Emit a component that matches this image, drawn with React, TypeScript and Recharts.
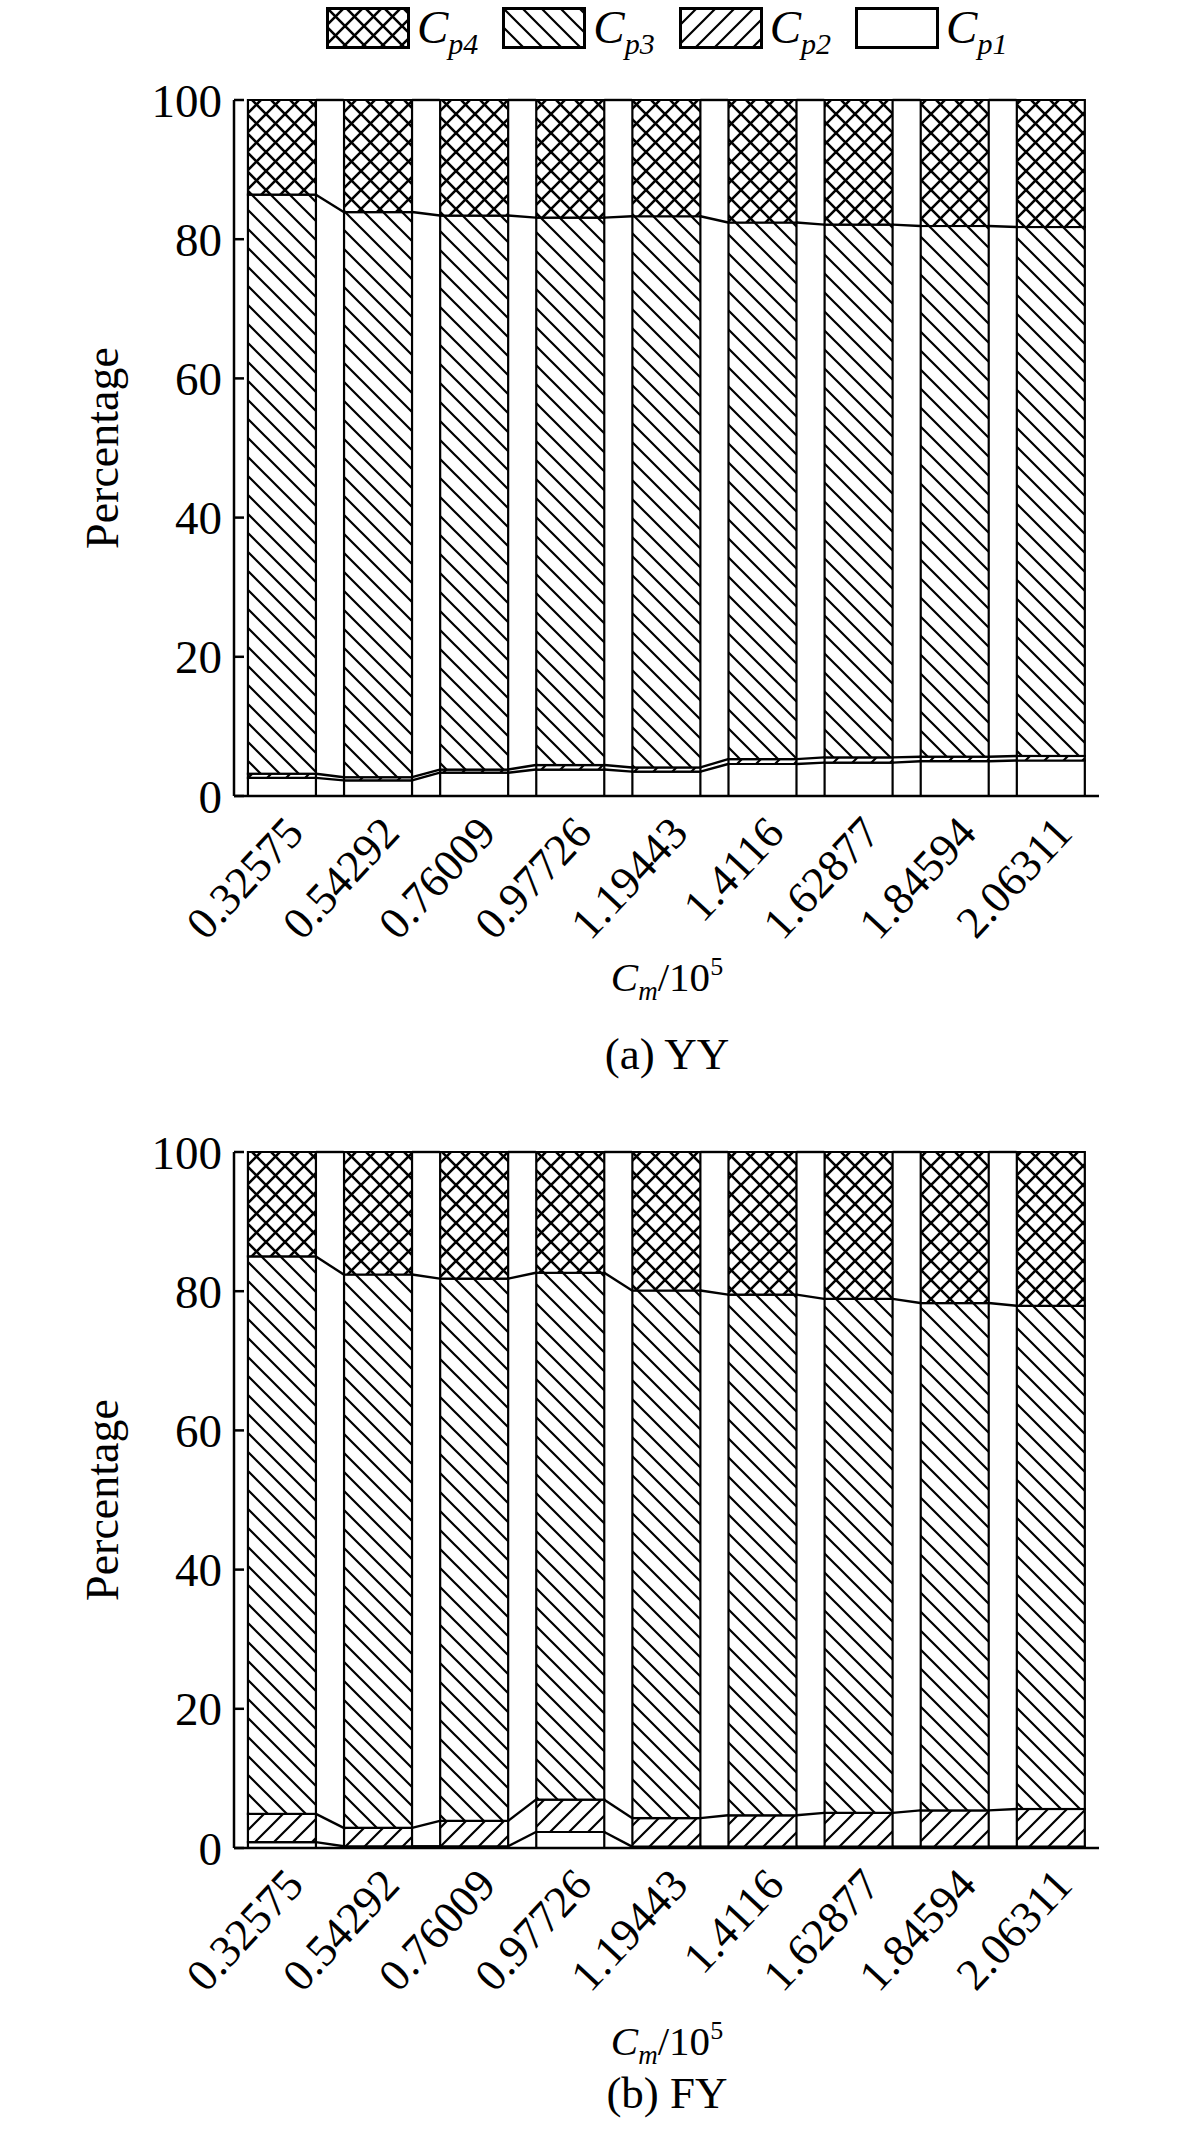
import React from 'react';
import { BarChart, Bar, XAxis, YAxis } from 'recharts';

// Categories on the x axis (C_m / 10^5)
const categories = ['0.32575', '0.54292', '0.76009', '0.97726', '1.19443', '1.4116', '1.62877', '1.84594', '2.06311'];

// (a) YY  - percentage of each component
const yyCp1 = [2.6, 2.25, 3.35, 3.8, 3.5, 4.6, 4.8, 5.0, 5.1];
const yyCp2 = [0.6, 0.45, 0.45, 0.65, 0.6, 0.7, 0.75, 0.65, 0.65];
const yyCp3 = [83.2, 81.2, 79.6, 78.65, 79.2, 77.1, 76.55, 76.25, 76.0];
const yyCp4 = [13.6, 16.1, 16.6, 16.9, 16.7, 17.6, 17.9, 18.1, 18.25];

// (b) FY
const fyCp1 = [0.85, 0.25, 0.25, 2.3, 0.2, 0.2, 0.2, 0.2, 0.2];
const fyCp2 = [4.05, 2.65, 3.65, 4.65, 4.1, 4.5, 4.85, 5.2, 5.4];
const fyCp3 = [80.1, 79.5, 77.9, 75.7, 75.8, 74.8, 73.85, 72.9, 72.3];
const fyCp4 = [15.0, 17.6, 18.2, 17.35, 19.9, 20.5, 21.1, 21.7, 22.1];

const yTicks = [0, 20, 40, 60, 80, 100];
const legendSubs = ['p4', 'p3', 'p2', 'p1'];

const SERIF = '"Liberation Serif", "Times New Roman", serif';
const GAP = 0.145; // barCategoryGap on each side of a bar

type Row = { name: string; cp1: number; cp2: number; cp3: number; cp4: number };

const buildRows = (c1: number[], c2: number[], c3: number[], c4: number[]): Row[] =>
  categories.map((name, i) => ({ name, cp1: c1[i], cp2: c2[i], cp3: c3[i], cp4: c4[i] }));

const yyRows = buildRows(yyCp1, yyCp2, yyCp3, yyCp4);
const fyRows = buildRows(fyCp1, fyCp2, fyCp3, fyCp4);

const levels = (r: Row) => [r.cp1, r.cp1 + r.cp2, r.cp1 + r.cp2 + r.cp3, 100];

// Cp3 segment + the "series lines" joining each bar to the next one
const makeCp3Shape = (rows: Row[]) => (props: any) => {
  const { x, y, width, height, index, payload } = props;
  const i = typeof index === 'number' ? index : rows.findIndex((r) => r.name === payload?.name);
  const row = rows[i];
  const low = row.cp1 + row.cp2;
  const ppu = height / row.cp3;
  const py = (v: number) => y + height - (v - low) * ppu;
  const band = width / (1 - 2 * GAP);
  const next = rows[i + 1];
  return (
    <g>
      <rect x={x} y={y} width={width} height={height} fill="url(#pat-cp3)" stroke="#000" strokeWidth={2.2} />
      {next &&
        levels(row).map((v, k) => (
          <line
            key={k}
            x1={x + width}
            y1={py(v)}
            x2={x + band}
            y2={py(levels(next)[k])}
            stroke="#000"
            strokeWidth={2.4}
          />
        ))}
    </g>
  );
};

const XTick = (props: any) => {
  const { x, y, payload } = props;
  const px = x + 12;
  const py = y + 20;
  return (
    <text
      x={px}
      y={py}
      dy="0.35em"
      textAnchor="end"
      transform={`rotate(-47 ${px} ${py})`}
      fontSize={45}
      fontFamily={SERIF}
      fill="#000"
    >
      {payload.value}
    </text>
  );
};

const Patterns = () => {
  const w = 19;
  const h = 19;
  const back = `M${-w / 2},${-h / 2} L${w * 1.5},${h * 1.5} M${w / 2},${-h / 2} L${w * 1.5},${h / 2} M${-w / 2},${h / 2} L${w / 2},${h * 1.5}`;
  const fwd = `M${-w / 2},${h * 1.5} L${w * 1.5},${-h / 2} M${-w / 2},${h / 2} L${w / 2},${-h / 2} M${w / 2},${h * 1.5} L${w * 1.5},${h / 2}`;
  return (
    <svg width={0} height={0} style={{ position: 'absolute' }}>
      <defs>
        <pattern id="pat-cp4" patternUnits="userSpaceOnUse" width={w} height={h}>
          <rect width={w} height={h} fill="#fff" />
          <path d={back} stroke="#000" strokeWidth={2.6} />
          <path d={fwd} stroke="#000" strokeWidth={2.6} />
        </pattern>
        <pattern id="pat-cp3" patternUnits="userSpaceOnUse" width={w} height={h}>
          <rect width={w} height={h} fill="#fff" />
          <path d={back} stroke="#000" strokeWidth={2.2} />
        </pattern>
        <pattern id="pat-cp2" patternUnits="userSpaceOnUse" width={w} height={h}>
          <rect width={w} height={h} fill="#fff" />
          <path d={fwd} stroke="#000" strokeWidth={2.2} />
        </pattern>
      </defs>
    </svg>
  );
};

const Sub = ({ children, size }: { children: React.ReactNode; size: number }) => (
  <span style={{ fontSize: size, position: 'relative', top: size * 0.35 }}>{children}</span>
);

const Legend = () => {
  const fills = ['url(#pat-cp4)', 'url(#pat-cp3)', 'url(#pat-cp2)', '#fff'];
  return (
    <div style={{ position: 'absolute', left: 326, top: 4, display: 'flex', alignItems: 'center', gap: 24 }}>
      {legendSubs.map((s, i) => (
        <div key={s} style={{ display: 'flex', alignItems: 'center' }}>
          <svg width={84} height={42}>
            <rect x={1.5} y={1.5} width={81} height={39} fill={fills[i]} stroke="#000" strokeWidth={3} />
          </svg>
          <span style={{ fontFamily: SERIF, fontStyle: 'italic', fontSize: 47, lineHeight: 1, marginLeft: 7 }}>
            C<Sub size={30}>{s}</Sub>
          </span>
        </div>
      ))}
    </div>
  );
};

type ChartProps = { rows: Row[]; top: number; caption: string; titleTop: number; captionTop: number };

const Chart = ({ rows, top, caption, titleTop, captionTop }: ChartProps) => (
  <>
    <div style={{ position: 'absolute', left: 0, top }}>
      <BarChart
        width={1181}
        height={1000}
        data={rows}
        margin={{ top: 100, right: 82, bottom: 144, left: 134 }}
        barCategoryGap={`${GAP * 100}%`}
      >
        <XAxis
          dataKey="name"
          interval={0}
          tickLine={false}
          axisLine={{ stroke: '#000', strokeWidth: 2.5 }}
          tick={<XTick />}
          height={60}
        />
        <YAxis
          domain={[0, 100]}
          ticks={yTicks}
          width={100}
          tickSize={-10}
          tickMargin={22}
          axisLine={{ stroke: '#000', strokeWidth: 2.5 }}
          tickLine={{ stroke: '#000', strokeWidth: 2.5 }}
          tick={{ fill: '#000', fontSize: 47, fontFamily: SERIF }}
        />
        <Bar dataKey="cp1" stackId="s" fill="#fff" stroke="#000" strokeWidth={2.2} isAnimationActive={false} />
        <Bar dataKey="cp2" stackId="s" fill="url(#pat-cp2)" stroke="#000" strokeWidth={2.2} isAnimationActive={false} />
        <Bar dataKey="cp3" stackId="s" shape={makeCp3Shape(rows)} isAnimationActive={false} />
        <Bar dataKey="cp4" stackId="s" fill="url(#pat-cp4)" stroke="#000" strokeWidth={2.2} isAnimationActive={false} />
      </BarChart>
    </div>
    <div
      style={{
        position: 'absolute',
        left: 103,
        top: top + 448,
        transform: 'translate(-50%, -50%) rotate(-90deg)',
        fontFamily: SERIF,
        fontSize: 46,
        lineHeight: 1,
        whiteSpace: 'nowrap',
      }}
    >
      Percentage
    </div>
    <div
      style={{
        position: 'absolute',
        left: 0,
        width: 1334,
        top: top + titleTop,
        textAlign: 'center',
        fontFamily: SERIF,
        fontSize: 41,
        lineHeight: 1,
        whiteSpace: 'nowrap',
      }}
    >
      <i>C</i>
      <i>
        <Sub size={27}>m</Sub>
      </i>
      /10
      <span style={{ fontSize: 26, position: 'relative', top: -16 }}>5</span>
    </div>
    <div
      style={{
        position: 'absolute',
        left: 0,
        width: 1334,
        top: top + captionTop,
        textAlign: 'center',
        fontFamily: SERIF,
        fontSize: 45,
        lineHeight: 1,
        whiteSpace: 'nowrap',
      }}
    >
      {caption}
    </div>
  </>
);

export default function App() {
  return (
    <div style={{ position: 'absolute', left: 0, top: 0, width: 1181, height: 2146, background: '#fff' }}>
      <Patterns />
      <Legend />
      <Chart rows={yyRows} top={0} caption="(a) YY" titleTop={957} captionTop={1032} />
      <Chart rows={fyRows} top={1052} caption="(b) FY" titleTop={969} captionTop={1019} />
    </div>
  );
}
